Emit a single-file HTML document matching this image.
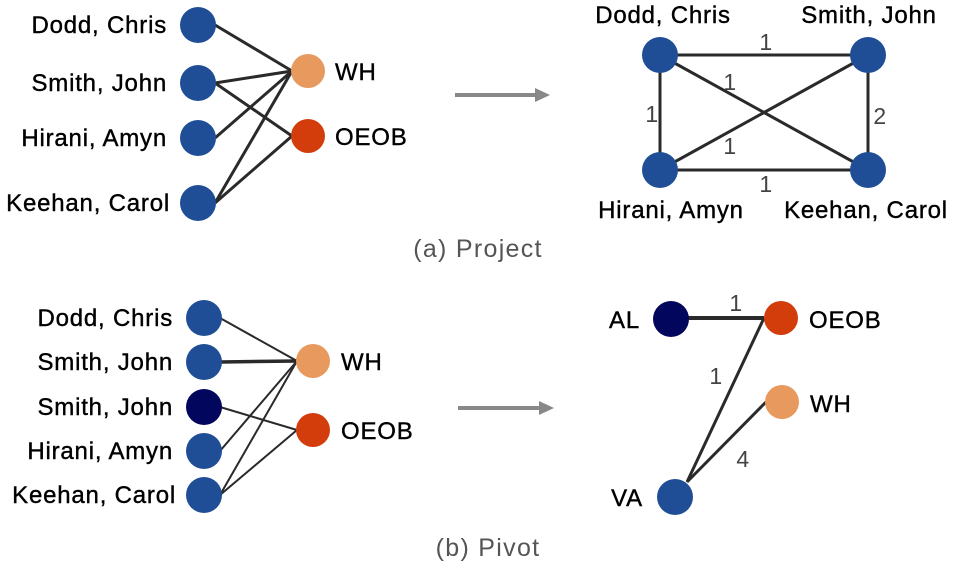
<!DOCTYPE html>
<html><head><meta charset="utf-8"><style>
html,body{margin:0;padding:0;background:#fff}
svg{display:block}
text{font-family:"Liberation Sans",sans-serif}
.n{font-size:24px;fill:#000;letter-spacing:0.8px;stroke:#000;stroke-width:0.4px}
.w{font-size:23px;fill:#444;letter-spacing:0.5px}
.c{font-size:25px;fill:#555;letter-spacing:1.3px}
</style></head><body>
<svg width="960" height="567" viewBox="0 0 960 567">
<g stroke="#2a2a2a" stroke-width="3" fill="none">
<line x1="215" y1="25" x2="292" y2="71"/>
<line x1="215" y1="83" x2="292" y2="71"/>
<line x1="215" y1="83" x2="292" y2="136"/>
<line x1="215" y1="138" x2="292" y2="71"/>
<line x1="215" y1="203" x2="292" y2="71"/>
<line x1="215" y1="203" x2="292" y2="136"/>
<line x1="660" y1="55" x2="868" y2="55"/>
<line x1="660" y1="55" x2="660" y2="170"/>
<line x1="868" y1="55" x2="868" y2="170"/>
<line x1="660" y1="170" x2="868" y2="170"/>
<line x1="660" y1="55" x2="868" y2="170"/>
<line x1="868" y1="55" x2="660" y2="170"/>
<line x1="220" y1="318" x2="297" y2="361" stroke-width="2"/>
<line x1="220" y1="362" x2="297" y2="361" stroke-width="3.5"/>
<line x1="220" y1="407" x2="297" y2="430" stroke-width="2"/>
<line x1="220" y1="451" x2="297" y2="361" stroke-width="2"/>
<line x1="220" y1="495" x2="297" y2="361" stroke-width="2"/>
<line x1="220" y1="495" x2="297" y2="430" stroke-width="2"/>
<line x1="671" y1="318" x2="764" y2="318" stroke-width="4"/>
<line x1="764" y1="318" x2="687" y2="482"/>
<line x1="766" y1="402" x2="687" y2="482"/>
</g>
<g stroke="#888" stroke-width="4"><line x1="455" y1="95" x2="538" y2="95"/><line x1="458" y1="408" x2="542" y2="408"/></g>
<polygon points="535,88 550,95 535,102" fill="#888"/>
<polygon points="539,401 554,408 539,415" fill="#888"/>
<g fill="#1f4e96">
<circle cx="198" cy="25" r="18"/><circle cx="198" cy="83" r="18"/><circle cx="198" cy="138" r="18"/><circle cx="198" cy="203" r="18"/>
<circle cx="660" cy="55" r="18"/><circle cx="868" cy="55" r="18"/><circle cx="660" cy="170" r="18"/><circle cx="868" cy="170" r="18"/>
<circle cx="204" cy="318" r="18"/><circle cx="204" cy="362" r="18"/><circle cx="204" cy="451" r="18"/><circle cx="204" cy="495" r="18"/>
<circle cx="675" cy="497" r="18"/>
</g>
<circle cx="204" cy="407" r="18" fill="#02075d"/>
<circle cx="671" cy="319" r="18" fill="#02075d"/>
<g fill="#e8995e"><circle cx="308" cy="71" r="17"/><circle cx="313" cy="361" r="17"/><circle cx="782" cy="402" r="17"/></g>
<g fill="#d33c0b"><circle cx="308" cy="136" r="17"/><circle cx="313" cy="430" r="17"/><circle cx="781" cy="318" r="17"/></g>
<g class="n" text-anchor="end">
<text x="167" y="33">Dodd, Chris</text><text x="167" y="91">Smith, John</text><text x="167" y="146">Hirani, Amyn</text><text x="170" y="211">Keehan, Carol</text>
<text x="173" y="326">Dodd, Chris</text><text x="173" y="370">Smith, John</text><text x="173" y="415">Smith, John</text><text x="173" y="459">Hirani, Amyn</text><text x="176" y="503">Keehan, Carol</text>
<text x="640" y="328">AL</text><text x="643" y="506">VA</text>
</g>
<g class="n">
<text x="335" y="80">WH</text><text x="335" y="145">OEOB</text>
<text x="341" y="370">WH</text><text x="341" y="439">OEOB</text>
<text x="809" y="328">OEOB</text><text x="810" y="412">WH</text>
</g>
<g class="n" text-anchor="middle">
<text x="663" y="23">Dodd, Chris</text><text x="869" y="23">Smith, John</text>
<text x="671" y="218">Hirani, Amyn</text><text x="866" y="218">Keehan, Carol</text>
</g>
<g class="w" text-anchor="middle">
<text x="766" y="50">1</text><text x="652" y="122">1</text><text x="880" y="124">2</text><text x="766" y="192">1</text>
<text x="730" y="90">1</text><text x="730" y="154">1</text>
<text x="736" y="311">1</text><text x="716" y="384">1</text><text x="743" y="467">4</text>
</g>
<text class="c" x="478" y="257" text-anchor="middle">(a) Project</text>
<text class="c" x="488" y="556" text-anchor="middle">(b) Pivot</text>
</svg>
</body></html>
